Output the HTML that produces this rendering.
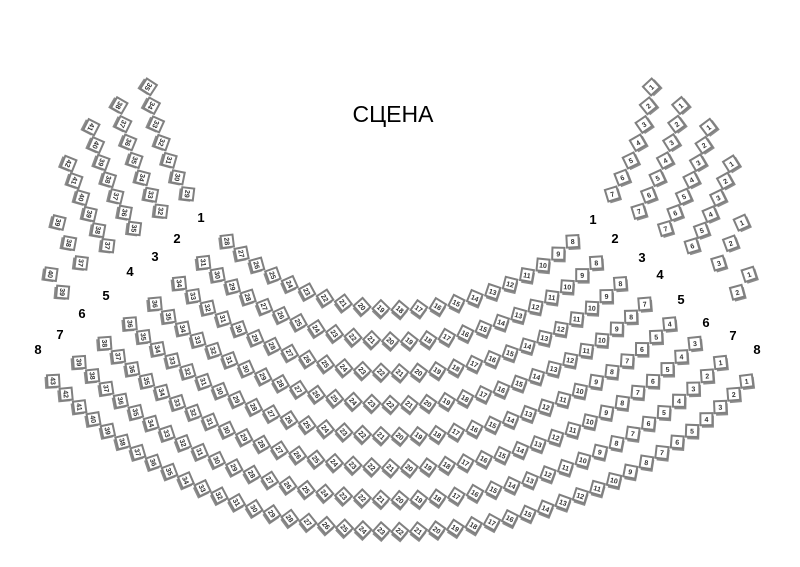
<!DOCTYPE html>
<html><head><meta charset="utf-8"><style>
html,body{margin:0;padding:0;background:#fff;width:800px;height:567px;overflow:hidden}
svg{display:block}
</style></head><body>
<svg id="s" width="800" height="567" viewBox="0 0 800 567" xmlns="http://www.w3.org/2000/svg">
<text x="393" y="122" font-family="Liberation Sans, sans-serif" font-size="23" text-anchor="middle" fill="#000">СЦЕНА</text>
<g id="seats"></g>
<g font-family="Liberation Sans, sans-serif" font-size="13" font-weight="bold" fill="#000" text-anchor="middle">
<text x="201" y="222">1</text><text x="177" y="243">2</text><text x="155" y="261">3</text><text x="130" y="276">4</text>
<text x="106" y="300">5</text><text x="82" y="318">6</text><text x="60" y="339">7</text><text x="38" y="354">8</text>
<text x="593" y="224">1</text><text x="615" y="243">2</text><text x="642" y="262">3</text><text x="660" y="279">4</text>
<text x="681" y="304">5</text><text x="706" y="327">6</text><text x="733" y="340">7</text><text x="757" y="354">8</text>
</g>
</svg>
<script>
(function(){
var g=document.getElementById('seats');var cx=400,cy=56;var out='';
var wingEnd=[83,80,77,72,64,58,0,0],wingStart=[57,57,57,57,57,55,0,0];
var D=Math.PI/180;
function seat(phi,r,n){
 var x=cx-r*Math.sin(phi),y=cy+r*Math.cos(phi);var a=phi/D+40;
 out+='<g transform="translate('+x.toFixed(1)+','+y.toFixed(1)+') rotate('+a.toFixed(1)+')">'+
 '<rect x="-5" y="-4" width="12" height="12" fill="#8c8c8c"/>'+
 '<rect x="-6.5" y="-6.5" width="12" height="12" fill="#fff" stroke="#808080" stroke-width="2"/>'+
 '<text x="-0.5" y="2.2" font-size="7" font-weight="bold" text-anchor="middle" font-family="Liberation Sans, sans-serif" fill="#333">'+n+'</text></g>';
}
function seg(a0,a1,r,sp){var arc=(a1-a0)*D*r;var k=Math.max(1,Math.round(arc/sp));var p=[];for(var j=0;j<=k;j++)p.push((a0+(a1-a0)*j/k)*D);return p;}
for(var i=0;i<8;i++){
 var r=254+i*31.7,sp=18.7,me=43+i*0.55;
 var list=[];
 if(wingEnd[i])list=list.concat(seg(-wingEnd[i],-wingStart[i],r,sp));
 list=list.concat(seg(-me,me,r,sp));
 if(wingEnd[i])list=list.concat(seg(wingStart[i],wingEnd[i],r,sp));
 for(var k=0;k<list.length;k++)seat(list[k],r,k+1);
}
g.innerHTML=out;
})();
</script>
</body></html>
